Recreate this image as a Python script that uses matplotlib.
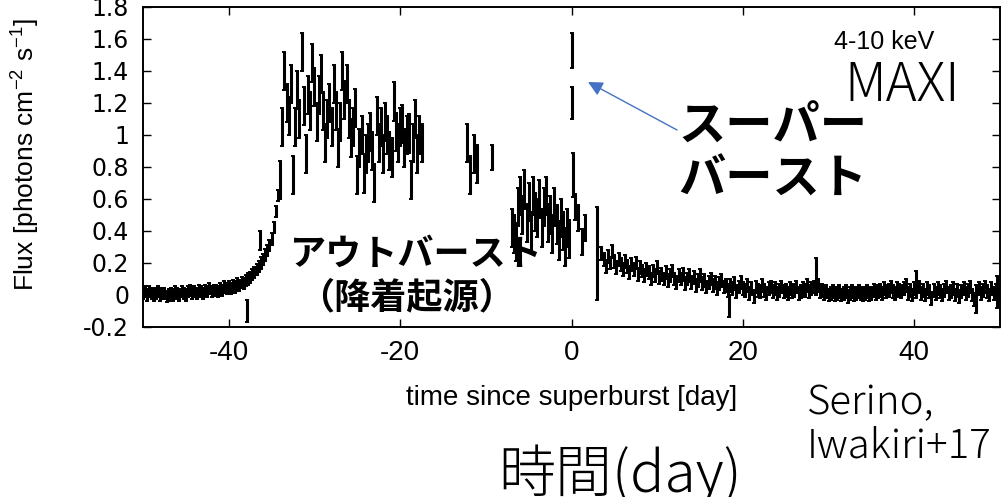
import numpy as np
import matplotlib.pyplot as plt
from matplotlib.ticker import FormatStrFormatter, MultipleLocator

plt.rcParams['axes.unicode_minus'] = False
plt.rcParams['mathtext.fontset'] = 'custom'
plt.rcParams['mathtext.rm'] = 'Liberation Sans'
plt.rcParams['mathtext.default'] = 'regular'

# MAXI 4-10 keV light curve, time in days since the superburst.
# Each stretch is a run of regular bins: first bin, bin width, fluxes, error.
pre_start, pre_step = -50.0, 0.25
pre_flux = [0.01, 0.02, 0.00, 0.02, 0.01, 0.00, 0.01, 0.02, 0.00, 0.01,
            0.01, -0.01, 0.00, 0.01, 0.00, 0.02, 0.01, 0.00, 0.02, 0.01,
            0.00, 0.02, 0.03, 0.01, 0.02, 0.01, 0.03, 0.02, 0.01, 0.03,
            0.02, 0.04, 0.02, 0.03, 0.03, 0.02, 0.04, 0.03, 0.05, 0.04,
            0.05, 0.04, 0.06, 0.05, 0.07, 0.06, 0.08, 0.07, 0.09, 0.10,
            0.11, 0.13, 0.14, 0.16, 0.18, 0.20, 0.22, 0.25, 0.28, 0.31,
            0.35, 0.42, 0.52, 0.62]
pre_err = 0.035

outburst_start, outburst_step = -34.0, 0.25
outburst_flux = [0.72, 1.05, 1.40, 1.20, 1.12, 1.32, 0.75, 1.05, 1.28, 1.10,
                 1.52, 1.18, 0.88, 1.25, 1.15, 1.45, 1.30, 1.08, 1.25, 1.38,
                 1.15, 0.95, 1.10, 1.20, 1.05, 1.32, 1.15, 0.92, 1.08, 1.40,
                 1.22, 1.32, 1.10, 0.98, 1.05, 1.17, 0.75, 0.92, 1.00, 0.76,
                 0.88, 0.95, 1.02, 0.90, 0.70, 1.12, 0.95, 1.05, 0.88, 1.08,
                 1.00, 0.90, 0.86, 1.21, 1.02, 0.95, 1.05, 1.07, 0.92, 1.00,
                 1.01, 0.72, 0.95, 1.10, 0.88, 1.00, 0.95]
outburst_err = 0.12

gap_start, gap_step = -12.2, 0.4
gap_flux = [0.95, 0.75, 0.88, 0.82]
gap_err = 0.12

rise_start, rise_step = -7.0, 0.25
rise_flux = [0.42, 0.38, 0.33, 0.55, 0.62, 0.50, 0.66, 0.45, 0.58, 0.40,
             0.62, 0.52, 0.48, 0.60, 0.42, 0.55, 0.62, 0.45, 0.50, 0.38,
             0.55, 0.44, 0.34, 0.48, 0.40, 0.30, 0.42, 0.35]
rise_err = 0.12

post_start, post_step = 0.4, 0.4
post_flux = [0.55, 0.48, 0.33, 0.42]
post_err = 0.08

decay_start, decay_step = 3.5, 0.25
decay_flux = [0.26, 0.22, 0.18, 0.24, 0.20, 0.27, 0.21, 0.17, 0.22, 0.19,
              0.16, 0.21, 0.18, 0.14, 0.19, 0.16, 0.20, 0.13, 0.17, 0.15,
              0.12, 0.16, 0.14, 0.10, 0.15, 0.12, 0.17, 0.11, 0.13, 0.10,
              0.14, 0.09, 0.12, 0.15, 0.10, 0.08, 0.12, 0.10, 0.13, 0.07,
              0.10, 0.12, 0.08, 0.11, 0.06, 0.09, 0.12, 0.07, 0.09, 0.05,
              0.08, 0.10, 0.06, 0.08, 0.04, 0.07, 0.09, 0.05, 0.06, 0.03,
              0.06, 0.04, 0.07, 0.02, 0.05, 0.08, 0.04, 0.03, 0.06, 0.01,
              0.04, -0.01, 0.05, 0.03, 0.02, 0.06, 0.03, 0.01, 0.04, 0.05,
              0.02, 0.04, 0.01, 0.03, 0.05, 0.02, 0.03, 0.01, 0.04, 0.02,
              0.03, 0.05, 0.01, 0.02, 0.04, 0.03, 0.06, 0.02, 0.04, 0.05,
              0.04, 0.06, 0.02, 0.03, 0.01, 0.02, 0.00, 0.01, 0.02, 0.00,
              0.01, 0.02, 0.00, 0.01, 0.02, -0.01, 0.01, 0.02, 0.00, 0.01,
              0.02, 0.01, 0.00, 0.01, 0.02, 0.00, 0.01, 0.03, 0.01, 0.02,
              0.03, 0.01, 0.04, 0.02, 0.03, 0.05, 0.02, 0.01, 0.04, 0.03,
              0.02, 0.04, 0.06, 0.01, 0.03, 0.00, 0.04, 0.02, 0.05, 0.01,
              0.03, 0.00, 0.04, 0.02, -0.02, 0.03, 0.01, 0.04, 0.02, 0.00,
              0.03, 0.05, 0.01, 0.02, 0.04, 0.00, 0.03, -0.01, 0.02, 0.04,
              0.01, 0.03, 0.05, 0.00, -0.03, 0.02, 0.04, 0.01, 0.03, 0.05,
              0.02, 0.00, 0.04, 0.01, 0.03, 0.02, 0.03]
decay_err = 0.04

# superburst orbits
sb_time = [0.0, 0.07, 0.14]
sb_flux = [1.53, 1.20, 0.75]
sb_err = [0.11, 0.10, 0.14]

# single bins off the regular grid
extra_time = [-37.9, -36.4, -9.3, 3.0, 18.4, 28.5, 40.2, 47.2, 49.6]
extra_flux = [-0.10, 0.34, 0.86, 0.26, -0.07, 0.13, 0.08, -0.05, 0.02]
extra_err = [0.07, 0.06, 0.08, 0.29, 0.07, 0.10, 0.07, 0.06, 0.10]

W, H = 1002, 497
fig = plt.figure(figsize=(W / 100, H / 100), dpi=100)
ax = fig.add_axes([143 / W, 1 - 327 / H, (1000 - 143) / W, (327 - 7) / H])

bar_kw = dict(fmt='none', ecolor='black', elinewidth=2.2, capsize=1.2, capthick=1.4)
stretches = [
    (pre_start, pre_step, pre_flux, pre_err),
    (outburst_start, outburst_step, outburst_flux, outburst_err),
    (gap_start, gap_step, gap_flux, gap_err),
    (rise_start, rise_step, rise_flux, rise_err),
    (post_start, post_step, post_flux, post_err),
    (decay_start, decay_step, decay_flux, decay_err),
]
for start, step, flux, err in stretches:
    t = start + step * np.arange(len(flux))
    ax.errorbar(t, flux, yerr=err, **bar_kw)
ax.errorbar(sb_time, sb_flux, yerr=sb_err, **bar_kw)
ax.errorbar(extra_time, extra_flux, yerr=extra_err, **bar_kw)

ax.set_xlim(-50, 50)
ax.set_ylim(-0.2, 1.8)
ax.xaxis.set_major_locator(MultipleLocator(20))
ax.yaxis.set_major_locator(MultipleLocator(0.2))
ax.xaxis.set_major_formatter(FormatStrFormatter('%g'))
ax.yaxis.set_major_formatter(FormatStrFormatter('%g'))
ax.tick_params(direction='in', length=6, width=1, top=True, right=True)
ax.tick_params(axis='x', pad=9, labelsize=20)
ax.tick_params(axis='y', pad=10, labelsize=17)
for lab in ax.get_xticklabels():
    lab.set_family('Liberation Sans')
for lab in ax.get_yticklabels():
    lab.set_family('DejaVu Sans')
for sp in ax.spines.values():
    sp.set_linewidth(1.4)


def px(x, y):
    return x / W, 1 - y / H


fig.text(*px(26, 155), 'Flux [photons cm$^{-2}$ s$^{-1}$]', rotation=90,
         ha='center', va='center', fontsize=19, family='Liberation Sans')
fig.text(*px(572, 398), 'time since superburst [day]', ha='center', va='center',
         fontsize=20, family='Liberation Sans')

fig.text(*px(884, 42), '4-10 keV', ha='center', va='center', fontsize=18,
         family='Liberation Sans')
fig.text(*px(902, 86), 'MAXI', ha='center', va='center', fontsize=38,
         family=['Noto Sans CJK JP'], weight='light')

jp_bold = dict(family=['Noto Sans CJK JP'], weight='bold', color='black')
fig.text(*px(678, 127), 'スーパー', ha='left', va='center', fontsize=34, **jp_bold)
fig.text(*px(678, 180), 'バースト', ha='left', va='center', fontsize=34, **jp_bold)
fig.text(*px(290, 254), 'アウトバースト', ha='left', va='center', fontsize=26, **jp_bold)
fig.text(*px(298, 298), '（降着起源）', ha='left', va='center', fontsize=26, **jp_bold)

jp_thin = dict(family=['Noto Sans CJK JP'], weight='light', color='black')
fig.text(*px(807, 403), 'Serino,', ha='left', va='center', fontsize=29, **jp_thin)
fig.text(*px(807, 447), 'Iwakiri+17', ha='left', va='center', fontsize=29, **jp_thin)
fig.text(*px(620, 492), '時間(day)', ha='center', va='baseline', fontsize=41, **jp_thin)

ax.annotate('', xy=(588, H - 82), xycoords='figure pixels',
            xytext=(677, H - 130), textcoords='figure pixels',
            arrowprops=dict(arrowstyle='-|>', mutation_scale=22, color='#4472C4',
                            lw=1.0, shrinkA=0, shrinkB=0))

fig.savefig('out.png', dpi=100)
